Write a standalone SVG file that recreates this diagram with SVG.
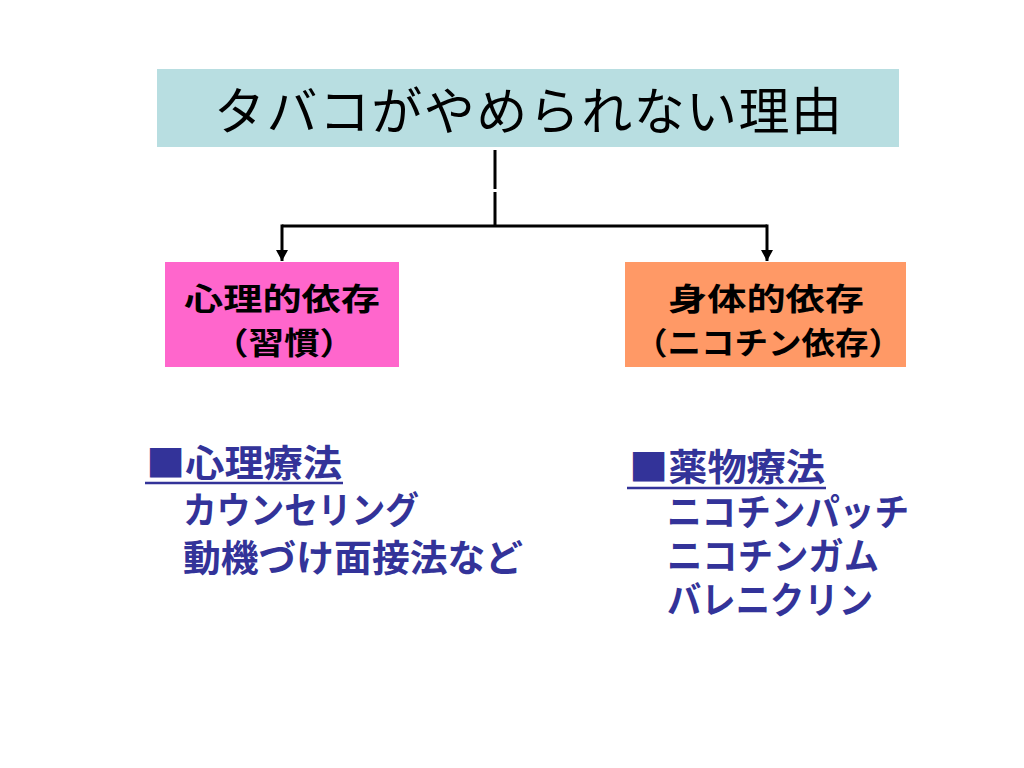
<svg xmlns="http://www.w3.org/2000/svg" width="1024" height="768" viewBox="0 0 1024 768">
<style>
.t{font-family:"Noto Sans CJK JP","Noto Sans CJK SC",sans-serif;}
.title{font-size:51px;fill:#000;}
.box{font-size:31px;font-weight:bold;fill:#000;}
.list{font-size:37px;font-weight:bold;fill:#333399;}
.ul{stroke:#333399;stroke-width:2.5;}
.conn{fill:none;stroke:#000;stroke-width:3;}
</style>
<defs>
<marker id="arr" viewBox="0 0 11 12" refX="11" refY="6" markerWidth="11" markerHeight="12" markerUnits="userSpaceOnUse" orient="auto">
<path d="M0,0 L11,6 L0,12 Z" fill="#000"/>
</marker>
</defs>
<rect width="1024" height="768" fill="#fff"/>
<g id="title">
<rect x="157" y="69" width="742" height="78" fill="#B8DEE1"/>
<text class="t title" x="528" y="130" text-anchor="middle" textLength="628" lengthAdjust="spacing">タバコがやめられない理由</text>
</g>
<g id="connectors">
<path class="conn" d="M495,150 V189 M495,192 V226"/>
<path class="conn" d="M282,226 H767"/>
<path class="conn" d="M282,224.5 V261" marker-end="url(#arr)"/>
<path class="conn" d="M767,224.5 V261" marker-end="url(#arr)"/>
</g>
<g id="psych">
<rect x="165" y="262" width="234" height="105" fill="#FF66CC"/>
<text class="t box" x="282" y="310" text-anchor="middle" textLength="196" lengthAdjust="spacingAndGlyphs">心理的依存</text>
<text class="t box" x="284" y="354" text-anchor="middle" textLength="142" lengthAdjust="spacingAndGlyphs">（習慣）</text>
</g>
<g id="phys">
<rect x="625" y="262" width="281" height="105" fill="#FF9966"/>
<text class="t box" x="766" y="310" text-anchor="middle" textLength="196" lengthAdjust="spacingAndGlyphs">身体的依存</text>
<text class="t box" x="768" y="354" text-anchor="middle" textLength="268" lengthAdjust="spacingAndGlyphs">（ニコチン依存）</text>
</g>
<g id="psychotherapy">
<text class="t list" x="146" y="477" textLength="196" lengthAdjust="spacingAndGlyphs">■心理療法</text>
<line class="ul" x1="145" y1="483" x2="343" y2="483"/>
<text class="t list" x="183" y="524" textLength="236" lengthAdjust="spacingAndGlyphs">カウンセリング</text>
<text class="t list" x="183" y="572" textLength="340" lengthAdjust="spacingAndGlyphs">動機づけ面接法など</text>
</g>
<g id="pharmacotherapy">
<text class="t list" x="629" y="481" textLength="196" lengthAdjust="spacingAndGlyphs">■薬物療法</text>
<line class="ul" x1="627" y1="488" x2="826" y2="488"/>
<text class="t list" x="667" y="526" textLength="242" lengthAdjust="spacingAndGlyphs">ニコチンパッチ</text>
<text class="t list" x="667" y="570" textLength="212" lengthAdjust="spacingAndGlyphs">ニコチンガム</text>
<text class="t list" x="667" y="614" textLength="206" lengthAdjust="spacingAndGlyphs">バレニクリン</text>
</g>
</svg>
